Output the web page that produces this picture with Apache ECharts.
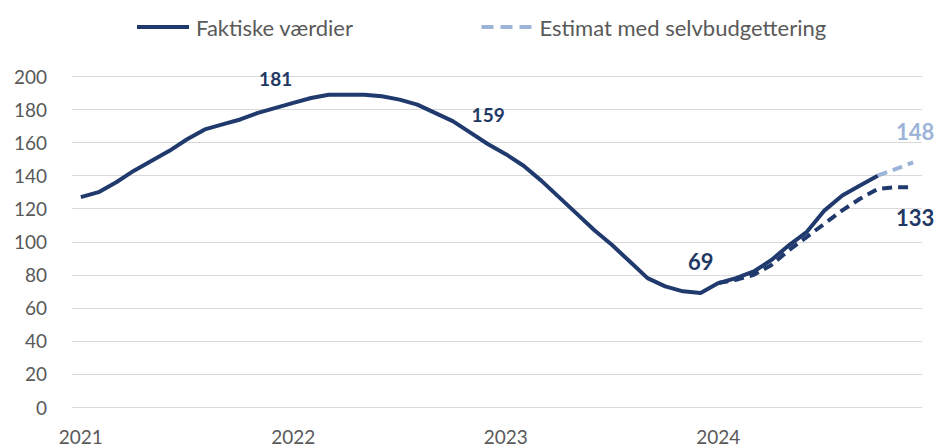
<!DOCTYPE html>
<html>
<head>
<meta charset="utf-8">
<script src="https://cdn.jsdelivr.net/npm/echarts@6/dist/echarts.min.js"></script>
<style>
html,body{margin:0;padding:0;background:#fff;}
#chart{width:936px;height:448px;}
</style>
</head>
<body>
<div id="chart"></div>
<script>
// Months Jan 2021 .. Dec 2024
const years = ['2021', '2022', '2023', '2024'];
const months = ['01','02','03','04','05','06','07','08','09','10','11','12'];
const categories = [];
years.forEach(y => months.forEach(m => categories.push(y + '-' + m)));

// Faktiske værdier, Jan 2021 .. Oct 2024
const actualValues = [
  127, 130, 136, 143, 149, 155, 162, 168, 171, 174, 178, 181,
  184, 187, 189, 189, 189, 188, 186, 183, 178, 173, 166, 159,
  153, 146, 137, 127, 117, 107, 98, 88, 78, 73, 70, 69,
  75, 78, 82, 89, 98, 106, 119, 128, 134, 140
];
// Estimat med selvbudgettering, Oct 2024 .. Dec 2024
const estimateSelfStart = 45;
const estimateSelfValues = [140, 144, 148];
// Second estimate (dark dashed), Jan 2024 .. Dec 2024
const estimateOtherStart = 36;
const estimateOtherValues = [75, 77, 80, 86, 95, 103, 111, 119, 126, 132, 133, 133];

// Highlighted values (indices into actualValues)
const actualLabelIdx = [11, 23, 35];
const yTicks = { min: 0, max: 200, interval: 20 };

const DARK = '#203A6E';
const LABEL_DARK = '#1F3864';
const LIGHT = '#9DB4D9';
const FONT = 'Lato';

function pad(start, vals) {
  const arr = categories.map(() => '-');
  vals.forEach((v, i) => { arr[start + i] = v; });
  return arr;
}
function labelled(v, lab) {
  return { value: v, symbol: 'circle', symbolSize: 0.01, label: Object.assign({ show: true, fontWeight: 'bold', fontFamily: FONT }, lab) };
}

const actualData = actualValues.map((v, i) => {
  if (!actualLabelIdx.includes(i)) return v;
  const big = i === 35;
  return labelled(v, {
    position: 'top',
    distance: 20,
    fontSize: big ? 22 : 19,
    color: LABEL_DARK
  });
});

const selfData = pad(estimateSelfStart, estimateSelfValues);
selfData[categories.length - 1] = labelled(estimateSelfValues[estimateSelfValues.length - 1],
  { position: 'top', distance: 20, fontSize: 22, color: LIGHT, offset: [2, 0] });
const otherData = pad(estimateOtherStart, estimateOtherValues);
otherData[categories.length - 1] = labelled(estimateOtherValues[estimateOtherValues.length - 1],
  { position: 'bottom', distance: 19, fontSize: 22, color: LABEL_DARK, offset: [2, 0] });

const chart = echarts.init(document.getElementById('chart'), null, { renderer: 'svg' });
chart.setOption({
  animation: false,
  backgroundColor: '#fff',
  textStyle: { fontFamily: FONT },
  legend: {
    data: [
      { name: 'Faktiske værdier', icon: 'path://M0,0h52v4h-52z', itemStyle: { color: DARK, borderWidth: 0 } },
      { name: 'Estimat med selvbudgettering', icon: 'path://M0,0h12v4h-12zM19,0h12v4h-12zM38,0h12v4h-12z', itemStyle: { color: LIGHT, borderWidth: 0 } }
    ],
    left: 132, top: 11,
    itemWidth: 52, itemHeight: 4, itemGap: 128,
    lineStyle: { width: 0 },
    textStyle: { fontSize: 22, color: '#595959', fontFamily: FONT, padding: [0, 0, 0, 2] }
  },
  grid: { left: 72, right: 14, top: 76.5, bottom: 41 },
  xAxis: {
    type: 'category',
    data: categories,
    boundaryGap: true,
    axisLine: { show: false },
    axisTick: { show: false },
    axisLabel: {
      interval: 11,
      formatter: v => v.slice(0, 4),
      color: '#595959', fontSize: 19, fontFamily: FONT, margin: 20
    }
  },
  yAxis: {
    type: 'value',
    min: yTicks.min, max: yTicks.max, interval: yTicks.interval,
    axisLine: { show: false },
    axisTick: { show: false },
    axisLabel: { color: '#595959', fontSize: 19, fontFamily: FONT, margin: 25 },
    splitLine: { lineStyle: { color: '#D9D9D9', width: 1 } }
  },
  series: [
    {
      name: 'Estimat uden selvbudgettering',
      type: 'line', data: otherData, symbol: 'none', z: 2,
      lineStyle: { color: DARK, width: 4, type: [10, 6] },
      itemStyle: { color: DARK }
    },
    {
      name: 'Faktiske værdier',
      type: 'line', data: actualData, symbol: 'none', z: 3,
      lineStyle: { color: DARK, width: 4 },
      itemStyle: { color: DARK }
    },
    {
      name: 'Estimat med selvbudgettering',
      type: 'line', data: selfData, symbol: 'none', z: 2,
      lineStyle: { color: LIGHT, width: 4, type: [10, 6] },
      itemStyle: { color: LIGHT }
    }
  ]
});
</script>
</body>
</html>
